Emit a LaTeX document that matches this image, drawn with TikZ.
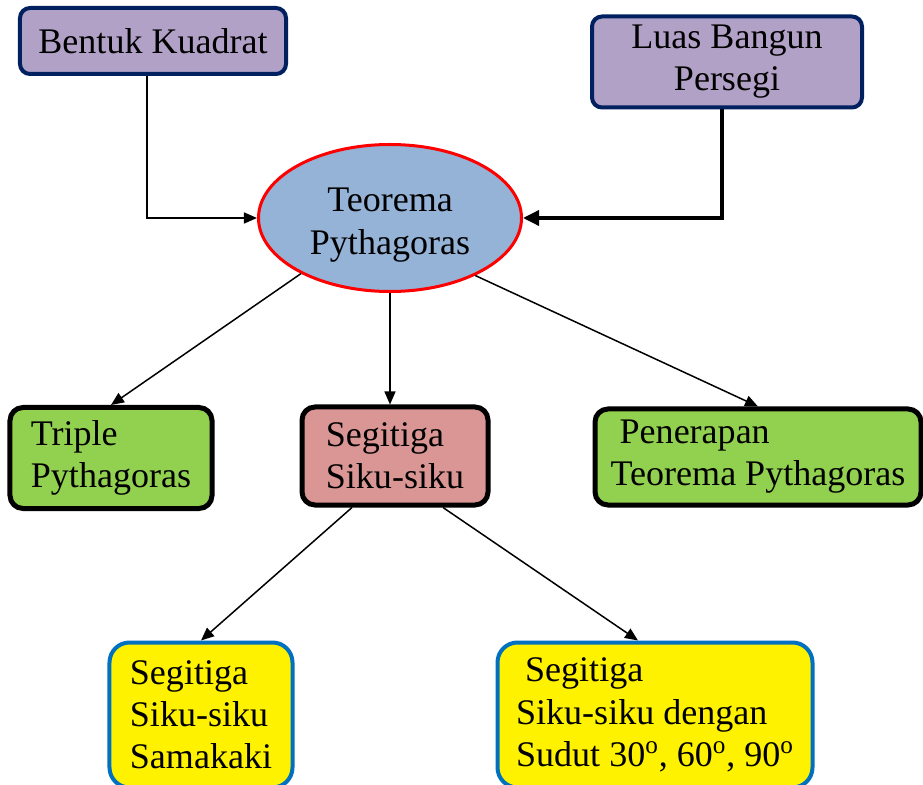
\documentclass[tikz,border=0pt]{standalone}
\usepackage{fontspec}
\setmainfont{Liberation Serif}
\usetikzlibrary{arrows.meta, shapes.geometric}
\definecolor{lila}{HTML}{B2A1C7}
\definecolor{navy}{HTML}{002060}
\definecolor{langit}{HTML}{95B3D7}
\definecolor{daun}{HTML}{92D050}
\definecolor{merahmuda}{HTML}{DA9694}
\definecolor{lautbiru}{HTML}{0070C0}
\tikzset{
    every node/.style={font=\fontsize{20.5}{24}\selectfont, align=left},
    kotak/.style={draw, rounded corners=2mm, inner sep=0pt},
    ungu/.style={kotak, fill=lila, draw=navy, line width=0.8mm, align=center},
    hijau/.style={kotak, fill=daun, line width=1mm, rounded corners=2.6mm},
    kuning/.style={kotak, fill=yellow, draw=lautbiru, line width=0.8mm,
    	rounded corners=4mm},
    panah/.style={-{Triangle[length=2.6mm,width=2.2mm]}, line width=0.3mm}
}
\begin{document}
\begin{tikzpicture}[x=0.2mm, y=-0.2mm]
	\useasboundingbox (0,0) rectangle (923,785);
	\node (kuadrat) [ungu, minimum width=53.2mm, minimum height=13.2mm] at (153,41) {Bentuk Kuadrat};
	\node (luas) [ungu, minimum width=54mm, minimum height=18.2mm] at (727,62) {Luas Bangun\\Persegi};
	\node (teorema) [ellipse, draw=red, fill=langit, line width=0.6mm, align=center, text height=16mm,
		minimum width=52.6mm, minimum height=29.4mm, inner sep=0pt] at (390,218) {Teorema\\Pythagoras};
	\node (triple) [hijau, minimum width=40.4mm, minimum height=20.2mm] at (111,458) {Triple\\Pythagoras};
	\node (siku) [hijau, fill=merahmuda, minimum width=37.2mm, minimum height=19.6mm] at (395,456) {Segitiga\\Siku-siku};
	\node (terapan) [hijau, minimum width=65.2mm, minimum height=19.2mm] at (758,457)
		{\hspace*{0.25em}Penerapan\\Teorema Pythagoras};
	\node (samakaki) [kuning, minimum width=36.6mm, minimum height=29mm] at (201,715) {Segitiga\\Siku-siku\\Samakaki};
	\node (sudut) [kuning, minimum width=63mm, minimum height=29mm] at (655,715)
		{\hspace*{0.25em}Segitiga\\Siku-siku dengan\\Sudut 30\textsuperscript{o}, 60\textsuperscript{o}, 90\textsuperscript{o}};

	\draw [panah] ([xshift=-1.2mm]kuadrat.south) |- (teorema.west);
	\draw [panah, line width=0.7mm, -{Triangle[length=3.2mm,width=3mm]}] ([xshift=-1mm]luas.south) |- (teorema.east);
	\draw [panah] (teorema.212) -- (triple.north);
	\draw [panah] (teorema.south) -- (teorema.south |- siku.north);
	\draw [panah] (teorema.-34) -- (terapan.north);
	\draw [panah] ([xshift=-8.6mm]siku.south) -- (samakaki.north);
	\draw [panah] ([xshift=9.6mm]siku.south) -- ([xshift=-3.4mm]sudut.north);
\end{tikzpicture}
\end{document}
